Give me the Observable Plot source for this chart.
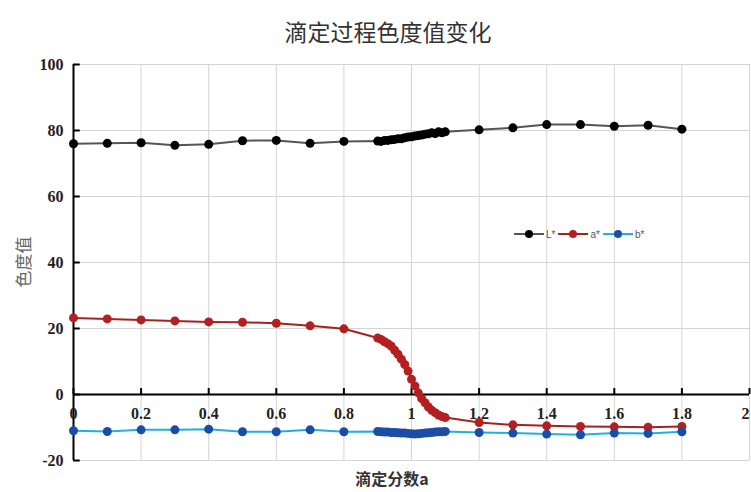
<!DOCTYPE html>
<html><head><meta charset="utf-8">
<script src="https://cdn.jsdelivr.net/npm/d3@7"></script>
<script src="https://cdn.jsdelivr.net/npm/@observablehq/plot@0.6"></script>
<style>
body{margin:0;background:#fff;}
#wrap{position:relative;width:751px;height:492px;overflow:hidden;}
#title{position:absolute;left:0;width:776px;top:14px;text-align:center;font-family:"Noto Sans CJK SC",sans-serif;font-size:23px;color:#333;}
#ylab{position:absolute;left:22px;top:262px;transform:translate(-50%,-50%) rotate(-90deg);font-family:"Noto Sans CJK SC",sans-serif;font-size:17px;color:#666;white-space:nowrap;}
#xlab{position:absolute;left:392px;top:479px;transform:translate(-50%,-50%);font-family:"Noto Sans CJK SC","Liberation Serif",serif;font-weight:bold;font-size:16px;color:#333;white-space:nowrap;line-height:1.2;}
#legend{position:absolute;left:514px;top:228px;display:flex;align-items:center;font-family:"Liberation Sans",Arial,sans-serif;font-size:10px;color:#555;}
#legend .item{display:flex;align-items:center;margin-right:3px;}
#legend svg{display:block;margin-right:2px;}
</style></head><body><div id="wrap"></div>
<script>
const fraction = [0,0.1,0.2,0.3,0.4,0.5,0.6,0.7,0.8,
  0.90,0.91,0.92,0.93,0.94,0.95,0.96,0.97,0.98,0.99,1.00,1.01,1.02,1.03,1.04,1.05,1.06,1.07,1.08,1.09,1.10,
  1.2,1.3,1.4,1.5,1.6,1.7,1.8];
const Lstar = [76.0,76.1,76.3,75.5,75.8,76.9,77.0,76.1,76.7,
  76.8,76.7,77.0,77.0,77.2,77.3,77.5,77.5,77.8,78.0,78.1,78.3,78.5,78.6,78.9,79.0,79.3,79.1,79.6,79.3,79.6,
  80.2,80.8,81.8,81.8,81.3,81.6,80.4];
const astar = [23.2,22.9,22.6,22.3,22.0,21.9,21.6,20.8,19.9,
  17.1,16.7,16.0,15.4,14.7,13.4,12.2,10.7,9.1,7.1,4.6,2.6,0.5,-1.2,-2.5,-3.8,-4.8,-5.5,-6.2,-6.7,-7.0,
  -8.5,-9.2,-9.5,-9.7,-9.8,-9.9,-9.7];
const bstar = [-11.0,-11.2,-10.7,-10.7,-10.5,-11.3,-11.3,-10.7,-11.3,
  -11.2,-11.3,-11.4,-11.4,-11.5,-11.5,-11.6,-11.7,-11.7,-11.8,-11.9,-12.0,-11.9,-11.8,-11.7,-11.6,-11.5,-11.4,-11.3,-11.3,-11.2,
  -11.5,-11.7,-12.0,-12.2,-11.7,-11.8,-11.3];
const seriesNames = ["L*","a*","b*"];
const lineColors = ["#555555","#a52222","#22b0d8"];
const dotColors = ["#000000","#b41f1f","#1a4ea6"];
const xTicks = [0,0.2,0.4,0.6,0.8,1,1.2,1.4,1.6,1.8,2];
const xTickLabels = ["0","0.2","0.4","0.6","0.8","1","1.2","1.4","1.6","1.8","2"];
const yTicks = [-20,0,20,40,60,80,100];
const yTickLabels = ["-20","0","20","40","60","80","100"];
const titleText = "滴定过程色度值变化";
const xLabel = "滴定分数a";
const yLabel = "色度值";

const seriesVals = [Lstar, astar, bstar];
const rows = [];
seriesNames.forEach((s, k) => fraction.forEach((x, i) => rows.push({series: s, x, y: seriesVals[k][i]})));
const xTickData = xTicks.map((v, i) => ({v, label: xTickLabels[i], last: i === xTicks.length - 1}));

const tickFont = {fontSize: 16, fontWeight: "bold", fontFamily: "Liberation Serif, serif", fill: "#222"};
const marks = [
  Plot.gridX(xTicks, {stroke: "#d4d4d4", strokeOpacity: 1, strokeWidth: 1}),
  Plot.gridY(yTicks, {stroke: "#d4d4d4", strokeOpacity: 1, strokeWidth: 1}),
  Plot.ruleX([0], {y1: yTicks[0], y2: yTicks[yTicks.length - 1], stroke: "#000", strokeWidth: 2}),
  Plot.ruleY(yTicks, {x1: 0, x2: 0.02, stroke: "#000", strokeWidth: 2}),
  Plot.axisY(yTicks, {anchor: "left", tickSize: 0, tickPadding: 10, tickFormat: d => yTickLabels[yTicks.indexOf(d)], ...tickFont, label: null}),
  Plot.ruleY([0], {stroke: "#000", strokeWidth: 2}),
  Plot.ruleX(xTicks, {y1: 0, y2: 1.8, stroke: "#000", strokeWidth: 2}),
  Plot.text(xTickData.filter(d => !d.last), {x: "v", y: () => 0, dy: 19, text: "label", ...tickFont}),
  Plot.text(xTickData.filter(d => d.last), {x: "v", y: () => 0, dy: 19, text: "label", textAnchor: "end", ...tickFont})
];
seriesNames.forEach((s, k) => {
  const d = rows.filter(r => r.series === s);
  marks.push(Plot.line(d, {x: "x", y: "y", stroke: lineColors[k], strokeWidth: 2}));
  marks.push(Plot.dot(d, {x: "x", y: "y", r: 4.5, fill: dotColors[k], stroke: "none"}));
});

const chart = Plot.plot({
  width: 751, height: 492,
  marginTop: 64, marginBottom: 32, marginLeft: 73, marginRight: 2,
  x: {domain: [0, 2], axis: null},
  y: {domain: [-20, 100], axis: null},
  style: {background: "transparent", overflow: "visible"},
  marks
});

const wrap = document.getElementById("wrap");
wrap.appendChild(chart);
const t = document.createElement("div"); t.id = "title"; t.textContent = titleText; wrap.appendChild(t);
const yl = document.createElement("div"); yl.id = "ylab"; yl.textContent = yLabel; wrap.appendChild(yl);
const xl = document.createElement("div"); xl.id = "xlab"; xl.textContent = xLabel; wrap.appendChild(xl);
const lg = document.createElement("div"); lg.id = "legend";
seriesNames.forEach((s, k) => {
  const it = document.createElement("div"); it.className = "item";
  it.innerHTML = `<svg width="30" height="12"><line x1="0" x2="30" y1="6" y2="6" stroke="${lineColors[k]}" stroke-width="2"/><circle cx="15" cy="6" r="4" fill="${dotColors[k]}"/></svg><span>${s}</span>`;
  lg.appendChild(it);
});
wrap.appendChild(lg);
</script>
</body></html>
